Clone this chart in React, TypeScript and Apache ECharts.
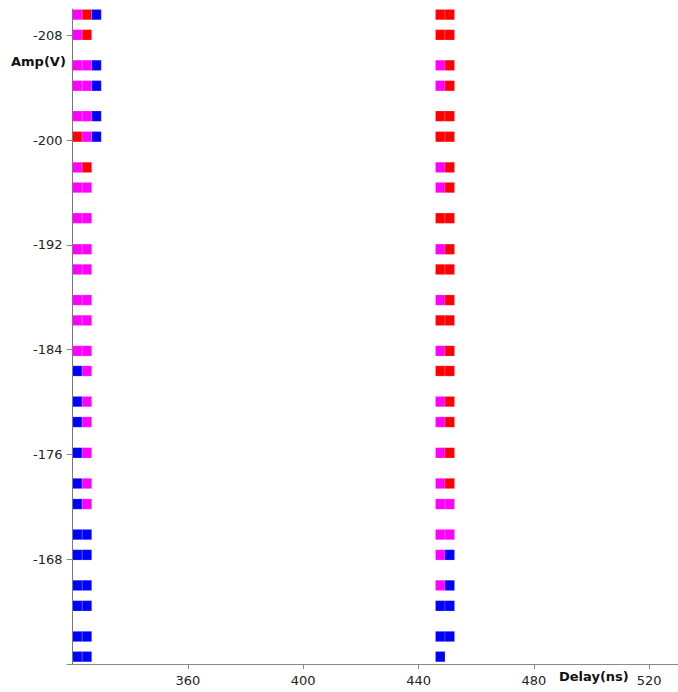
import React, { useEffect, useRef } from "react";
import * as echarts from "echarts";

// Amplitude rows (V), top to bottom
const AMP = [
  -209.57, -208.03, -205.7, -204.14, -201.82, -200.25, -197.91, -196.37, -194.03,
  -191.66, -190.12, -187.78, -186.23, -183.9, -182.37, -180.03, -178.47, -176.12,
  -173.78, -172.21, -169.88, -168.33, -166.0, -164.44, -162.1, -160.56,
];

// Delay bins (ns), cell centres
const DELAY = [321.66, 324.97, 328.28, 447.53, 450.84];

// Cell state per delay bin, one entry per amplitude row (M = magenta, R = red, B = blue)
const COL_321 = ["M", "M", "M", "M", "M", "R", "M", "M", "M", "M", "M", "M", "M", "M", "B", "B", "B", "B", "B", "B", "B", "B", "B", "B", "B", "B"];
const COL_325 = ["R", "R", "M", "M", "M", "M", "R", "M", "M", "M", "M", "M", "M", "M", "M", "M", "M", "M", "M", "M", "B", "B", "B", "B", "B", "B"];
const COL_328 = ["B", null, "B", "B", "B", "B", null, null, null, null, null, null, null, null, null, null, null, null, null, null, null, null, null, null, null, null];
const COL_448 = ["R", "R", "M", "M", "R", "R", "M", "M", "R", "M", "R", "M", "R", "M", "R", "M", "M", "M", "M", "M", "M", "M", "M", "B", "B", "B"];
const COL_451 = ["R", "R", "R", "R", "R", "R", "R", "R", "R", "R", "R", "R", "R", "R", "R", "R", "R", "R", "R", "M", "M", "B", "B", "B", "B", null];
const COLUMNS = [COL_321, COL_325, COL_328, COL_448, COL_451];

const STATE_COLOR: Record<string, string> = { M: "#ff00ff", R: "#ff0000", B: "#0000ff" };

const Y_LABELS = [-208, -200, -192, -184, -176, -168];
const X_LABELS = [360, 400, 440, 480, 520];

// Bin size of a cell, in axis units
const CELL_W = 3.3125;
const CELL_H = 0.79;

const FONT = "DejaVu Sans";

export default function App() {
  const ref = useRef<HTMLDivElement>(null);

  useEffect(() => {
    document.body.style.margin = "0";
    if (!ref.current) return;
    const chart = echarts.init(ref.current, undefined, { renderer: "svg" });

    const data: any[] = [];
    COLUMNS.forEach((col, ci) => {
      col.forEach((state, ri) => {
        if (state) data.push([DELAY[ci], AMP[ri], state]);
      });
    });

    chart.setOption({
      animation: false,
      backgroundColor: "#ffffff",
      grid: { left: 72.6, top: 9, width: 609.4, height: 655, containLabel: false },
      xAxis: {
        type: "value",
        min: 320,
        max: 530,
        z: 3,
        axisLine: { show: true, lineStyle: { color: "#8a8a8a", width: 1 } },
        axisTick: { show: true, length: 5, customValues: X_LABELS, lineStyle: { color: "#8a8a8a" } },
        axisLabel: {
          customValues: X_LABELS,
          margin: 10,
          fontSize: 13,
          fontFamily: FONT,
          color: "#222",
        },
        splitLine: { show: false },
      },
      yAxis: {
        type: "value",
        inverse: true,
        min: -210,
        max: -160,
        z: 3,
        axisLine: { show: true, lineStyle: { color: "#777", width: 1 } },
        axisTick: { show: true, length: 6, customValues: [...Y_LABELS, -160], lineStyle: { color: "#8a8a8a" } },
        axisLabel: {
          customValues: Y_LABELS,
          margin: 10,
          fontSize: 13,
          fontFamily: FONT,
          color: "#222",
        },
        splitLine: { show: false },
      },
      graphic: [
        {
          type: "text",
          left: 11,
          top: 55,
          style: { text: "Amp(V)", fontSize: 13, fontWeight: "bold", fontFamily: FONT, fill: "#111" },
        },
        {
          type: "text",
          left: 559,
          top: 670,
          style: { text: "Delay(ns)", fontSize: 13, fontWeight: "bold", fontFamily: FONT, fill: "#111" },
        },
      ],
      series: [
        {
          type: "custom",
          data,
          clip: true,
          renderItem: (_params: any, api: any) => {
            const x = api.value(0);
            const y = api.value(1);
            const state = data[_params.dataIndex][2];
            const p0 = api.coord([x - CELL_W / 2, y - CELL_H / 2]);
            const p1 = api.coord([x + CELL_W / 2, y + CELL_H / 2]);
            return {
              type: "rect",
              shape: {
                x: Math.min(p0[0], p1[0]),
                y: Math.min(p0[1], p1[1]),
                width: Math.abs(p1[0] - p0[0]),
                height: Math.abs(p1[1] - p0[1]),
              },
              style: {
                fill: STATE_COLOR[state],
                stroke: "rgba(255,255,255,0.3)",
                lineWidth: 0.6,
              },
            };
          },
        },
      ],
    });

    return () => chart.dispose();
  }, []);

  return <div ref={ref} style={{ width: 678, height: 692 }} />;
}
